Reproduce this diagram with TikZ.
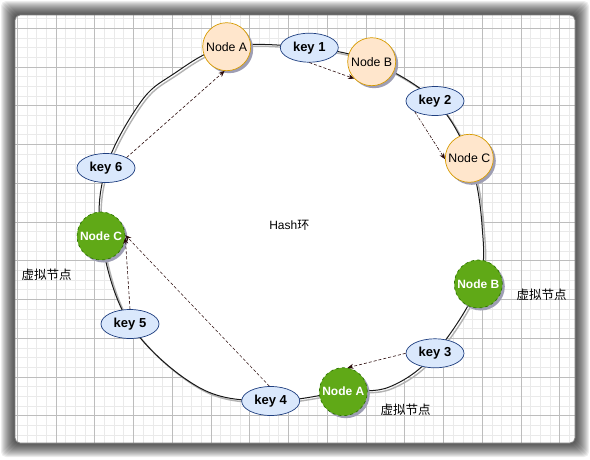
\documentclass[tikz,border=0pt]{standalone}
\usepackage{fontspec}
\setmainfont{Liberation Sans}
\newfontfamily\cjk{Noto Sans CJK SC}
\usetikzlibrary{arrows.meta,shapes.geometric,shadows}
\definecolor{orfill}{HTML}{FFE6CC}
\definecolor{ordraw}{HTML}{D79B00}
\definecolor{grfill}{HTML}{60A917}
\definecolor{grdraw}{HTML}{2D7600}
\definecolor{kfill}{HTML}{DAE8FC}
\definecolor{kdraw}{HTML}{1F3F80}
\definecolor{shadowc}{HTML}{9E9EB4}
\definecolor{minorc}{HTML}{EAEAEA}
\definecolor{majorc}{HTML}{BDBDBD}
\definecolor{arrc}{HTML}{2A0A0A}
\tikzset{
  minorgrid/.style={draw=minorc,line width=0.8pt},
  majorgrid/.style={draw=majorc,line width=0.8pt},
  realnode/.style={circle,draw=ordraw,fill=orfill,line width=0.7pt,minimum size=48pt,inner sep=0pt,
    font=\fontsize{12.3}{14}\selectfont,
    drop shadow={shadow xshift=2.5pt,shadow yshift=-2.5pt,fill=shadowc,opacity=1}},
  virtnode/.style={circle,draw=grdraw,dashed,fill=grfill,line width=0.7pt,minimum size=48pt,inner sep=0pt,
    text=white,font=\fontsize{12}{14}\selectfont\bfseries,
    drop shadow={shadow xshift=2.5pt,shadow yshift=-2.5pt,fill=shadowc,opacity=1}},
  keynode/.style={ellipse,draw=kdraw,fill=kfill,line width=0.7pt,minimum width=58pt,minimum height=29pt,inner sep=0pt,
    font=\fontsize{13}{14}\selectfont\bfseries},
  lbl/.style={font=\fontsize{12.5}{14}\selectfont\cjk,inner sep=0pt},
  maparrow/.style={draw=arrc,line width=0.6pt,dash pattern=on 3pt off 2pt,-{Stealth[length=6pt,width=5pt]}},
}
\begin{document}
\begin{tikzpicture}[x=1pt,y=-1pt]
\useasboundingbox (0,0) rectangle (590,459);
% frame shadow
\foreach \i in {1,...,14}
  \fill[black,opacity=0.07,rounded corners=5pt] ({15-\i},{15-\i}) rectangle ({575+\i},{443+\i});
\fill[white,rounded corners=5pt] (15,15) rectangle (575,443);
% grid
\begin{scope}
\clip[rounded corners=5pt] (15,15) rectangle (575,443);
\foreach \k in {0,...,57} \draw[minorgrid] ({17.3+9.6875*\k},15) -- ({17.3+9.6875*\k},443);
\foreach \k in {-1,...,42} \draw[minorgrid] (15,{28.3+9.6875*\k}) -- (575,{28.3+9.6875*\k});
\foreach \k in {0,...,14} \draw[majorgrid] ({17.3+38.75*\k},15) -- ({17.3+38.75*\k},443);
\foreach \k in {0,...,10} \draw[majorgrid] (15,{28.3+38.75*\k}) -- (575,{28.3+38.75*\k});
\end{scope}
\draw[gray,line width=0.8pt,rounded corners=5pt] (15,15) rectangle (575,443);
% ring
\def\ringpath{plot[smooth cycle,tension=0.6] coordinates {(226.7,46.7) (309.3,47.7) (371.7,61.7) (435,101) (469.3,158.3) (482,225) (478.3,284) (435,353.3) (390,386.7) (343.3,391.7) (270.7,401) (200,388) (130,324) (101,236) (106,168) (140,103) (172,75)}}
\fill[white] \ringpath;
\draw[gray!60,line width=1.4pt,shift={(2pt,-2pt)}] \ringpath;
\draw[black!90,line width=1pt] \ringpath;
% nodes
\node[realnode] (nA) at (226.7,46.7) {Node A};
\node[keynode] (k1) at (309.3,47.7) {key 1};
\node[realnode] (nB) at (371.7,61.7) {Node B};
\node[keynode] (k2) at (435,101) {key 2};
\node[realnode] (nC) at (469.3,158.3) {Node C};
\node[virtnode] (nBg) at (478.3,284) {Node B};
\node[keynode] (k3) at (435,353.3) {key 3};
\node[virtnode] (nAg) at (343.3,391.7) {Node A};
\node[keynode] (k4) at (270.7,401) {key 4};
\node[keynode] (k5) at (130,324) {key 5};
\node[virtnode] (nCg) at (101,236) {Node C};
\node[keynode] (k6) at (106,168) {key 6};
% labels
\node[lbl] (l1) at (46.7,275) {虚拟节点};
\node[lbl] (l2) at (541.7,295) {虚拟节点};
\node[lbl] (l3) at (405.7,410) {虚拟节点};
\node[font=\fontsize{12}{14}\selectfont,inner sep=0pt] (hash) at (289.3,225.7) {Hash{\cjk 环}};
% arrows
\draw[maparrow] (k1.south) -- (nB.224);
\draw[maparrow,dash pattern=on 3pt off 1.5pt on 1pt off 1.5pt] (k2.208) -- (nC.182);
\draw[maparrow] (k3.west) -- (nAg.80);
\draw[maparrow,line width=0.5pt] (k4.95) -- (nCg.2);
\draw[maparrow] (k5.north) -- (nCg.-4);
\draw[maparrow] (k6.27) -- (nA.265);
\end{tikzpicture}
\end{document}
